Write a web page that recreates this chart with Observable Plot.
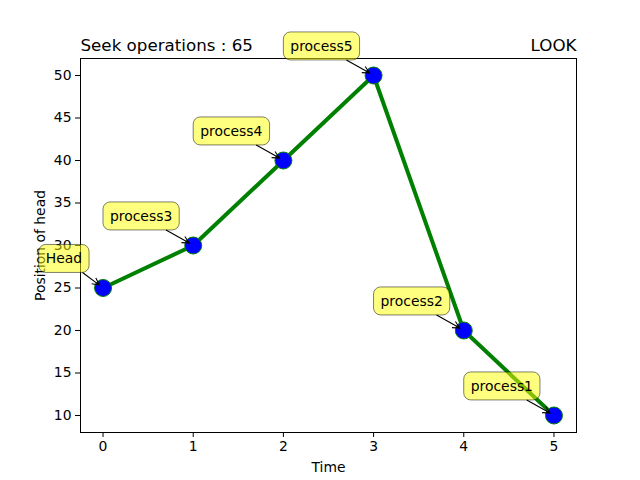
<!DOCTYPE html>
<html>
<head>
<meta charset="utf-8">
<script src="https://cdn.jsdelivr.net/npm/d3@7"></script>
<script src="https://cdn.jsdelivr.net/npm/@observablehq/plot@0.6"></script>
<style>
  html, body { margin: 0; padding: 0; background: #fff; }
</style>
</head>
<body>
<script>
const times = [0, 1, 2, 3, 4, 5];
const positions = [25, 30, 40, 50, 20, 10];
const labels = ["Head", "process3", "process4", "process5", "process2", "process1"];
const xTicks = [0, 1, 2, 3, 4, 5];
const yTicks = [10, 15, 20, 25, 30, 35, 40, 45, 50];
const titleLeft = "Seek operations : 65";
const titleRight = "LOOK";
const xLabel = "Time";
const yLabel = "Position of head";

const data = times.map((t, i) => ({time: t, pos: positions[i], label: labels[i]}));

const chart = Plot.plot({
  width: 640,
  height: 480,
  marginLeft: 80,
  marginRight: 64,
  marginTop: 58,
  marginBottom: 48,
  style: {fontFamily: "DejaVu Sans", fontSize: "13.9px", background: "#fff", color: "#000", overflow: "visible"},
  x: {domain: [-0.25, 5.25], ticks: xTicks, tickSize: 5, tickPadding: 4, tickFormat: d => String(d), label: null},
  y: {domain: [8, 52], ticks: yTicks, tickSize: 5, tickPadding: 4, tickFormat: d => String(d), label: null},
  marks: [
    Plot.frame({stroke: "#000", strokeWidth: 1}),
    Plot.line(data, {x: "time", y: "pos", stroke: "green", strokeWidth: 4}),
    Plot.dot(data, {x: "time", y: "pos", r: 8.5, fill: "blue", stroke: "green", strokeWidth: 1}),
    Plot.text([xLabel], {text: d => d, frameAnchor: "bottom", dy: 35, textAnchor: "middle", lineAnchor: "middle", fill: "#000"}),
    Plot.text([yLabel], {text: d => d, frameAnchor: "left", dx: -40, rotate: -90, textAnchor: "middle", lineAnchor: "middle", fill: "#000"}),
    Plot.text(data, {x: "time", y: "pos", text: "label", dx: -21, dy: -29, textAnchor: "end", lineAnchor: "middle", fill: "#000"}),
    Plot.text([titleLeft], {text: d => d, frameAnchor: "top-left", dy: -8, textAnchor: "start", lineAnchor: "bottom", fontSize: 16.7, fill: "#000"}),
    Plot.text([titleRight], {text: d => d, frameAnchor: "top-right", dy: -8, textAnchor: "end", lineAnchor: "bottom", fontSize: 16.7, fill: "#000"})
  ]
});

document.body.appendChild(chart);

// Annotation boxes and arrows, positioned with Plot's own scales
const sx = chart.scale("x");
const sy = chart.scale("y");
const svgRect = chart.getBoundingClientRect();
const ns = "http://www.w3.org/2000/svg";
const padX = 7, padY = 6;
const textEls = Array.from(chart.querySelectorAll("text")).filter(t => labels.includes(t.textContent));
textEls.forEach(t => {
  const i = labels.indexOf(t.textContent);
  const r = t.getBoundingClientRect();
  const bx = r.left - svgRect.left - padX;
  const by = r.top - svgRect.top - padY;
  const bw = r.width + 2 * padX;
  const bh = r.height + 2 * padY;
  const g = document.createElementNS(ns, "g");
  const rect = document.createElementNS(ns, "rect");
  rect.setAttribute("x", bx);
  rect.setAttribute("y", by);
  rect.setAttribute("width", bw);
  rect.setAttribute("height", bh);
  rect.setAttribute("rx", 7);
  rect.setAttribute("fill", "yellow");
  rect.setAttribute("fill-opacity", 0.5);
  rect.setAttribute("stroke", "black");
  rect.setAttribute("stroke-opacity", 0.5);
  rect.setAttribute("stroke-width", 1);
  g.appendChild(rect);

  const px = sx.apply(times[i]);
  const py = sy.apply(positions[i]);
  const cx = bx + bw / 2, cy = by + bh / 2;
  const dx = px - cx, dy = py - cy;
  const len = Math.hypot(dx, dy);
  const ux = dx / len, uy = dy / len;
  const tt = Math.min((bw / 2) / Math.abs(dx), (bh / 2) / Math.abs(dy));
  const x0 = cx + tt * dx, y0 = cy + tt * dy;
  const x1 = px - 4 * ux, y1 = py - 4 * uy;
  const hl = 7, hw = 3.5;
  const bxh = x1 - hl * ux, byh = y1 - hl * uy;
  const p1x = bxh - hw * uy, p1y = byh + hw * ux;
  const p2x = bxh + hw * uy, p2y = byh - hw * ux;
  const path = document.createElementNS(ns, "path");
  path.setAttribute("d", `M${x0},${y0}L${x1},${y1}M${p1x},${p1y}L${x1},${y1}L${p2x},${p2y}`);
  path.setAttribute("fill", "none");
  path.setAttribute("stroke", "black");
  path.setAttribute("stroke-width", 1.1);
  g.appendChild(path);

  const markGroup = t.parentNode;
  markGroup.parentNode.insertBefore(g, markGroup);
});
</script>
</body>
</html>
